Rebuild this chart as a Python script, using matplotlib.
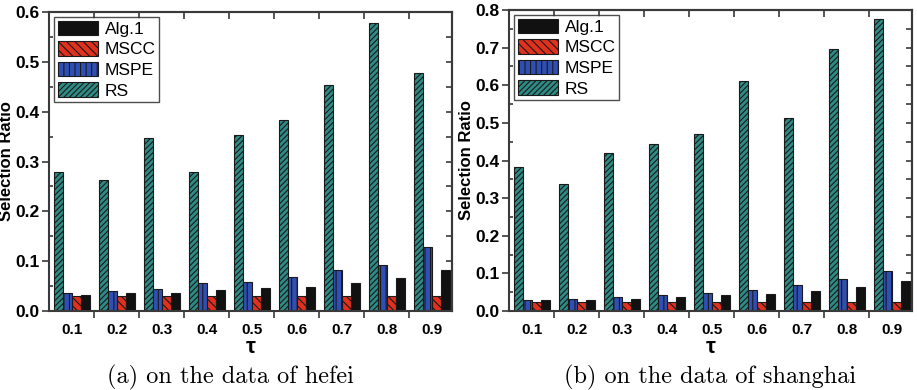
import numpy as np
import matplotlib
matplotlib.use("Agg")
import matplotlib.pyplot as plt
from matplotlib.ticker import MultipleLocator, FixedLocator

# tau values
taus = ["0.1", "0.2", "0.3", "0.4", "0.5", "0.6", "0.7", "0.8", "0.9"]

# (a) hefei
hefei_rs = [0.280, 0.262, 0.348, 0.280, 0.354, 0.384, 0.453, 0.579, 0.478]
hefei_mspe = [0.036, 0.040, 0.045, 0.056, 0.059, 0.069, 0.083, 0.093, 0.129]
hefei_mscc = [0.030, 0.030, 0.030, 0.030, 0.030, 0.030, 0.030, 0.030, 0.030]
hefei_alg1 = [0.033, 0.036, 0.037, 0.043, 0.046, 0.049, 0.057, 0.067, 0.083]

# (b) shanghai
sh_rs = [0.383, 0.337, 0.420, 0.443, 0.471, 0.612, 0.514, 0.697, 0.775]
sh_mspe = [0.028, 0.033, 0.037, 0.043, 0.049, 0.057, 0.068, 0.084, 0.105]
sh_mscc = [0.025, 0.025, 0.025, 0.025, 0.025, 0.025, 0.025, 0.025, 0.025]
sh_alg1 = [0.028, 0.030, 0.033, 0.036, 0.042, 0.045, 0.054, 0.063, 0.079]

plt.rcParams['font.family'] = ['Liberation Sans', 'DejaVu Sans']
plt.rcParams['hatch.linewidth'] = 0.8

fig = plt.figure(figsize=(9.17, 3.9), dpi=100)
ax1 = fig.add_axes([0.0534, 0.2026, 0.4396, 0.7664])
ax2 = fig.add_axes([0.5551, 0.2026, 0.4394, 0.7716])

x = np.arange(1, len(taus) + 1)
w = 0.2
edge = '#1a1a1a'
spine_c = '#3a3a3a'


def draw(ax, rs, mspe, mscc, alg1, ymax):
    b_rs = ax.bar(x - 1.5 * w, rs, w, color='#2e8b85', edgecolor=edge, hatch='//////', lw=0.8)
    b_pe = ax.bar(x - 0.5 * w, mspe, w, color='#2f4fb5', edgecolor=edge, hatch='|||', lw=0.8)
    b_cc = ax.bar(x + 0.5 * w, mscc, w, color='#e0301e', edgecolor=edge, hatch='\\\\\\\\', lw=0.8)
    b_al = ax.bar(x + 1.5 * w, alg1, w, color='#111111', edgecolor=edge, lw=0.8)

    ax.set_xlim(0.49, 9.45)
    ax.set_ylim(0, ymax)
    ax.set_xticks(x)
    ax.set_xticklabels(taus, fontweight='bold', fontsize=11)
    ax.xaxis.set_minor_locator(FixedLocator(np.arange(1.5, 9, 1)))
    ax.tick_params(axis='x', which='major', length=0, pad=9)
    ax.tick_params(axis='x', which='minor', direction='out', length=5, width=1.2, color=spine_c)
    ax.yaxis.set_major_locator(MultipleLocator(0.1))
    ax.yaxis.set_minor_locator(MultipleLocator(0.05))
    ax.tick_params(axis='y', which='major', direction='out', length=5, width=1.2, color=spine_c, pad=2)
    ax.tick_params(axis='y', which='minor', direction='in', length=3, width=1.2, color=spine_c)
    ax.set_yticks(ax.get_yticks())
    ax.set_yticklabels(['%.1f' % v for v in ax.get_yticks()], fontweight='bold', fontsize=12.5)
    ax.set_ylim(0, ymax)

    # top and right ticks point inward
    sx = ax.secondary_xaxis('top')
    sx.set_xticks(np.arange(1.5, 9, 1))
    sx.tick_params(direction='in', length=5, width=1.2, color=spine_c, labeltop=False)
    sy = ax.secondary_yaxis('right')
    sy.yaxis.set_major_locator(MultipleLocator(0.1))
    sy.yaxis.set_minor_locator(MultipleLocator(0.05))
    sy.tick_params(which='both', direction='in', length=4, width=1.2, color=spine_c, labelright=False)
    for s in [ax.spines[k] for k in ax.spines] + [sx.spines['top'], sy.spines['right']]:
        s.set_linewidth(1.5)
        s.set_color(spine_c)

    ax.set_ylabel('Selection Ratio', fontweight='bold', fontsize=12, labelpad=1)
    ax.set_xlabel('τ', fontweight='bold', fontsize=16, labelpad=0)

    leg = ax.legend([b_al, b_cc, b_pe, b_rs], ['Alg.1', 'MSCC', 'MSPE', 'RS'],
                    loc='upper left', fontsize=12.5, frameon=True, fancybox=False,
                    handlelength=2.3, handleheight=0.9, labelspacing=0.25,
                    borderpad=0.2, borderaxespad=0.3, handletextpad=0.4)
    leg.get_frame().set_edgecolor('#222222')
    leg.get_frame().set_linewidth(1.0)


draw(ax1, hefei_rs, hefei_mspe, hefei_mscc, hefei_alg1, 0.6)
draw(ax2, sh_rs, sh_mspe, sh_mscc, sh_alg1, 0.8)

fig.text(230 / 917, 1 - 377 / 390, '(a) on the data of hefei', ha='center', va='center',
         fontsize=17.5, family='cmr10')
fig.text(710 / 917, 1 - 377 / 390, '(b) on the data of shanghai', ha='center', va='center',
         fontsize=17.5, family='cmr10')

fig.savefig('out.png', dpi=100)
